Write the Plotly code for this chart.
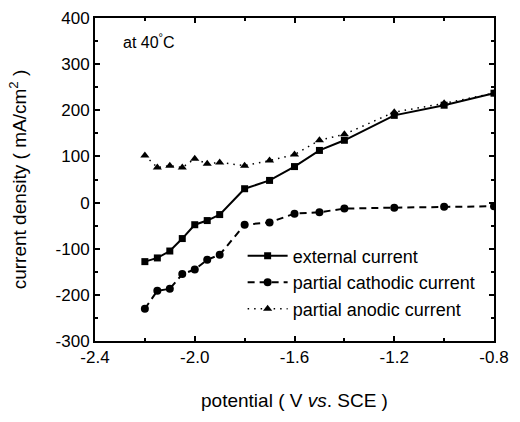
import plotly.graph_objects as go

potential = [-2.2, -2.15, -2.1, -2.05, -2.0, -1.95, -1.9, -1.8, -1.7, -1.6, -1.5, -1.4, -1.2, -1.0, -0.8]
external = [-128, -120, -105, -78, -48, -39, -26, 30, 48, 78, 113, 135, 189, 211, 237]
cathodic = [-230, -191, -187, -155, -145, -124, -113, -48, -43, -24, -21, -13, -11, -9, -8]
anodic = [102, 76, 80, 76, 95, 84, 87, 80, 91, 104, 135, 148, 196, 215, 237]

x_tickvals = [-2.4, -2.0, -1.6, -1.2, -0.8]
x_ticktext = ["-2.4", "-2.0", "-1.6", "-1.2", "-0.8"]
y_tickvals = [-300, -200, -100, 0, 100, 200, 300, 400]
y_ticktext = ["-300", "-200", "-100", "0", "100", "200", "300", "400"]

font = "Liberation Sans, Arial, sans-serif"

fig = go.Figure()
fig.add_trace(go.Scatter(x=potential, y=external, mode="lines+markers", name="external current",
                         line=dict(color="black", width=2),
                         marker=dict(symbol="square", size=7, color="black"),
                         legendgroup="a"))
fig.add_trace(go.Scatter(x=potential, y=cathodic, mode="lines+markers", name="partial cathodic current",
                         line=dict(color="black", width=2, dash="7px,5px"),
                         marker=dict(symbol="circle", size=8, color="black"),
                         legendgroup="b"))
fig.add_trace(go.Scatter(x=potential, y=anodic, mode="lines+markers", name="partial anodic current",
                         line=dict(color="black", width=1.5, dash="1.5px,5px"),
                         marker=dict(symbol="triangle-up", size=8, color="black"),
                         legendgroup="c"))

axis_common = dict(showline=True, linecolor="black", linewidth=2, mirror="allticks",
                   ticks="inside", ticklen=5, tickwidth=1.5, tickcolor="black",
                   showgrid=False, zeroline=False, automargin=False,
                   tickfont=dict(family=font, size=17, color="black"))

fig.update_xaxes(range=[-2.4, -0.8], tickvals=x_tickvals, ticktext=x_ticktext,
                 minor=dict(ticks="inside", ticklen=3, dtick=0.2, tick0=-2.4, tickcolor="black"),
                 title=dict(text="potential ( V <i>vs</i>. SCE )", font=dict(family=font, size=19, color="black"),
                            standoff=27),
                 **axis_common)
fig.update_yaxes(range=[-300, 400], tickvals=y_tickvals, ticktext=y_ticktext,
                 minor=dict(ticks="inside", ticklen=3, dtick=50, tick0=0, tickcolor="black"),
                 title=dict(text="current density ( mA/cm<sup>2</sup> )", font=dict(family=font, size=19, color="black"),
                            standoff=24),
                 **axis_common)

fig.add_annotation(x=0.05, y=0.93, xref="paper", yref="paper", text="at 40<sup>°</sup>C", showarrow=False,
                   xanchor="left", yanchor="middle", font=dict(family=font, size=16, color="black"),
                   xshift=6)

fig.update_layout(
    width=520, height=422,
    margin=dict(l=95, r=26, t=18, b=81),
    paper_bgcolor="white", plot_bgcolor="white",
    showlegend=True,
    legend=dict(x=0.37, y=0.32, xanchor="left", yanchor="top", bgcolor="rgba(0,0,0,0)",
                font=dict(family=font, size=18, color="black"), traceorder="grouped",
                tracegroupgap=0, itemwidth=40),
)

fig.write_html("out.html")
